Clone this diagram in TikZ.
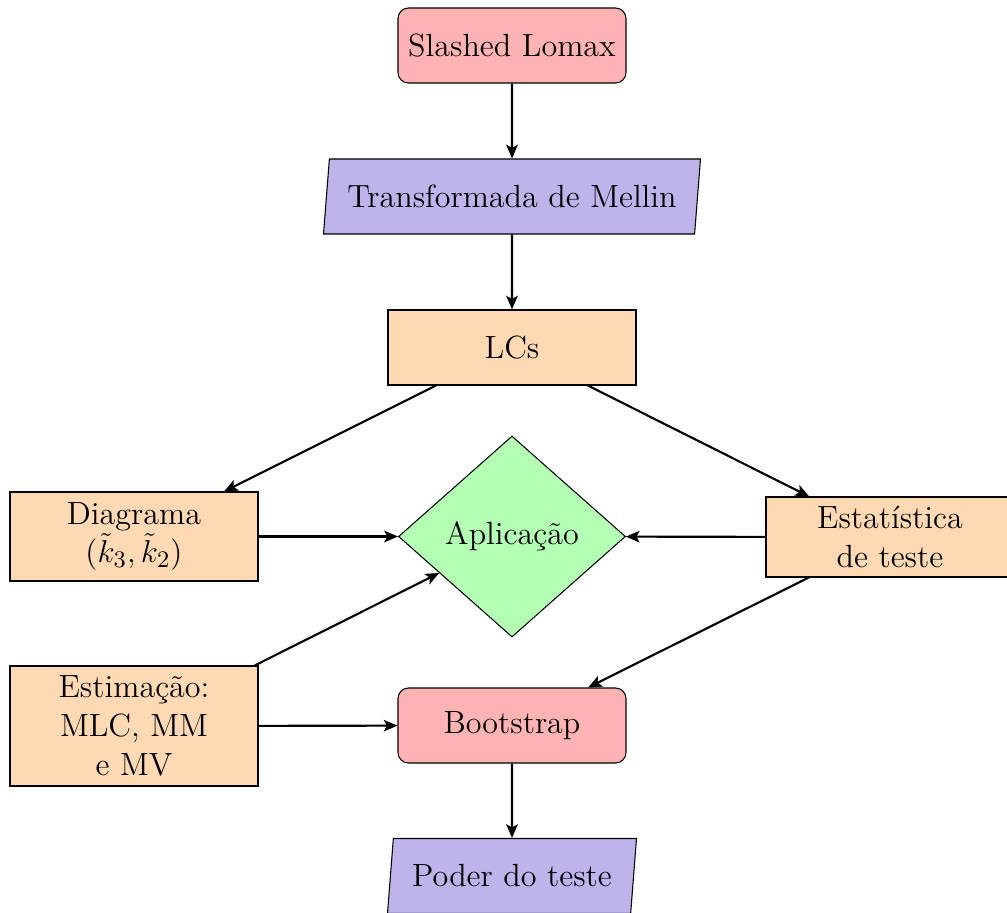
\documentclass[tikz,border=0pt,12pt]{standalone}
\usetikzlibrary{shapes.geometric,arrows.meta}
\definecolor{startc}{RGB}{255,179,179}
\definecolor{ioc}{RGB}{190,180,235}
\definecolor{procc}{RGB}{255,217,179}
\definecolor{decc}{RGB}{179,255,179}
\begin{document}
\begin{tikzpicture}[x=0.38pt,y=-0.38pt,
  every node/.style={font=\fontsize{12.2pt}{14.7pt}\selectfont},
  startstop/.style={rectangle, rounded corners=4pt, draw=black, fill=startc,
    minimum width=228*0.38pt, minimum height=75*0.38pt, inner sep=2pt, align=center},
  iobox/.style={trapezium, trapezium left angle=80, trapezium right angle=100,
    trapezium stretches body, draw=black, fill=ioc,
    minimum height=75*0.38pt, inner sep=2pt, align=center},
  process/.style={rectangle, draw=black, fill=procc,
    minimum width=248*0.38pt, inner sep=2pt, align=center},
  decision/.style={diamond, aspect=1.13, draw=black, fill=decc,
    minimum width=227*0.38pt, minimum height=201*0.38pt, inner sep=1pt, align=center},
  arrow/.style={thick,-{Stealth[length=5.2pt,width=4.4pt,inset=1.2pt]}}]
\useasboundingbox (0,0) rectangle (1007,913);

\node[startstop] (start) at (512,45.5) {Slashed Lomax};
\node[iobox, minimum width=377*0.38pt] (mellin) at (512,196.5) {Transformada de Mellin};
\node[process, minimum height=75*0.38pt] (lcs) at (512,347.5) {LCs};
\node[process, minimum height=89*0.38pt] (diag) at (134,536.5) {Diagrama\\$(\tilde{k}_3,\tilde{k}_2)$};
\node[decision] (apl) at (512,536.5) {Aplica\c{c}\~ao};
\node[process, minimum height=80*0.38pt] (estat) at (890,537) {Estat\'{\i}stica\\de teste};
\node[process, minimum height=120*0.38pt] (estim) at (134,726) {Estima\c{c}\~ao:\\MLC, MM\\e MV};
\node[startstop] (boot) at (512,725.5) {Bootstrap};
\node[iobox, minimum width=249*0.38pt] (poder) at (512,876) {Poder do teste};

\draw[arrow] (start) -- (mellin);
\draw[arrow] (mellin) -- (lcs);
\draw[arrow] (lcs) -- (diag);
\draw[arrow] (lcs) -- (estat);
\draw[arrow] (diag) -- (apl);
\draw[arrow] (estat) -- (apl);
\draw[arrow] (estim) -- (apl);
\draw[arrow] (estat) -- (boot);
\draw[arrow] (estim) -- (boot);
\draw[arrow] (boot) -- (poder);
\end{tikzpicture}
\end{document}
